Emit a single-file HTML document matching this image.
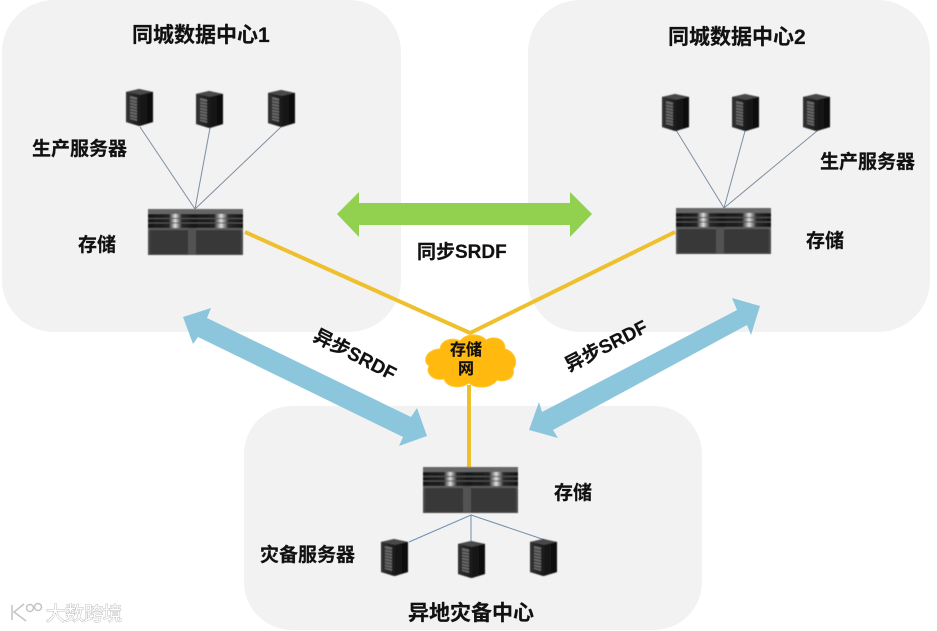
<!DOCTYPE html>
<html><head><meta charset="utf-8"><style>
html,body{margin:0;padding:0;background:#fff;width:937px;height:631px;overflow:hidden}
svg{display:block}
text{font-family:"Liberation Sans","Noto Sans CJK SC",sans-serif;font-weight:700;fill:#111;stroke:#111;stroke-width:.2}
</style></head><body>
<svg width="937" height="631" viewBox="0 0 937 631" xmlns="http://www.w3.org/2000/svg">
<defs>
<linearGradient id="sf" x1="0" x2="1" y1="0" y2="0"><stop offset="0" stop-color="#333"/><stop offset="1" stop-color="#1a1a1a"/></linearGradient>
<linearGradient id="ss" x1="0" x2="1" y1="0" y2="0"><stop offset="0" stop-color="#1a1a1a"/><stop offset="1" stop-color="#0a0a0a"/></linearGradient>
<linearGradient id="band" x1="0" x2="1" y1="0" y2="0"><stop offset="0" stop-color="#161616"/><stop offset=".44" stop-color="#222"/><stop offset=".58" stop-color="#e0e0e0"/><stop offset=".72" stop-color="#2a2a2a"/><stop offset="1" stop-color="#141414"/></linearGradient>
<filter id="b" x="-5%" y="-5%" width="110%" height="110%"><feGaussianBlur stdDeviation="0.5"/></filter>
<g id="srv" filter="url(#b)">
<path d="M0 3 L13 0 L27 3 L27 33 L13 37 L0 33Z" fill="#111"/>
<path d="M0 3 L13 0 L27 3 L14 6Z" fill="#4a4a4a"/>
<path d="M0 3 L14 6 L14 37 L0 33Z" fill="url(#sf)"/>
<path d="M14 6 L27 3 L27 33 L14 37Z" fill="url(#ss)"/>
<path d="M4 7 L11 8.5 L11 32 L4 30Z" fill="#6b6b6b"/>
<path d="M4 10 L11 11.5 M4 13 L11 14.5 M4 16 L11 17.5 M4 19 L11 20.5 M4 22 L11 23.5 M4 25 L11 26.5 M4 28 L11 29.5" stroke="#2a2a2a" stroke-width="1" fill="none"/>
</g>
<g id="sto" filter="url(#b)">
<rect width="95" height="46" fill="#4c4c4c"/>
<rect x="0" y="0" width="95" height="5" fill="#666"/>
<rect x="0" y="5" width="47" height="14" fill="url(#band)"/>
<rect x="43" y="5" width="52" height="14" fill="url(#band)"/>
<path d="M0 9.5H95M0 14H95" stroke="#555" stroke-width="1"/>
<rect x="0" y="19" width="95" height="3" fill="#5c5c5c"/>
<rect x="2" y="21" width="38" height="24" fill="#383838"/>
<rect x="48" y="21" width="45" height="24" fill="#383838"/>
<rect x="40" y="19" width="8" height="27" fill="#525252"/>
</g>
</defs>

<rect x="2" y="0" width="399" height="332" rx="52" fill="#f2f2f2"/>
<rect x="528" y="0" width="402" height="332" rx="52" fill="#f2f2f2"/>
<rect x="244" y="406" width="458" height="224" rx="48" fill="#f2f2f2"/>

<g stroke="#7f8fa0" stroke-width="1" fill="none">
<path d="M140 127L195 209M210 128L195 209M281 127L195 209"/>
<path d="M676 130L724 208M745 131L724 208M817 131L724 208"/>
<path d="M409 542L471 515L471 541M471 515L545 540" stroke="#6f8fae"/>
</g>

<g stroke="#efc02e" stroke-width="4" fill="none">
<path d="M245 232L470 333L675 232"/>
<path d="M469 385V467"/>
</g>

<use href="#srv" x="126" y="89"/><use href="#srv" x="196" y="91"/><use href="#srv" x="268" y="90"/>
<use href="#srv" x="662" y="94"/><use href="#srv" x="732" y="94"/><use href="#srv" x="803" y="94"/>
<use href="#srv" x="381" y="539"/><use href="#srv" x="458" y="541"/><use href="#srv" x="530" y="539"/>
<use href="#sto" x="148" y="209"/><use href="#sto" x="676" y="208"/><use href="#sto" x="423" y="467"/>

<polygon points="337,214 359,192 359,203 570,203 570,192 592,214 570,237 570,225 359,225 359,237" fill="#92d050"/>
<polygon points="183,317 211,308 207,318 411,417 417,408 427,436 399,446 403,437 198,337 193,344" fill="#8cc6dc"/>
<polygon points="760,306 732,298 737,310 542,412 539,402 529,430 558,438 553,430 747,325 751,335" fill="#8cc6dc"/>

<path d="M440 349C441 340 452 337 460 341C466 333 480 333 486 340C494 335 506 339 505 349C514 351 519 362 513 369C516 378 505 383 497 380C491 389 475 389 469 383C461 389 447 388 444 379C434 381 425 374 429 366C421 360 428 349 440 349Z" fill="#ffb90f" stroke="#ffc93a" stroke-width="1"/>

<g font-size="21">
<text x="132" y="42">同城数据中心1</text>
<text x="668" y="44">同城数据中心2</text>
<text x="408" y="620">异地灾备中心</text>
</g>
<g font-size="19">
<text x="32" y="155">生产服务器</text>
<text x="820" y="168">生产服务器</text>
<text x="260" y="561">灾备服务器</text>
<text x="78" y="251">存储</text>
<text x="806" y="247">存储</text>
<text x="554" y="499">存储</text>
<text x="417" y="258">同步SRDF</text>
<text transform="translate(312 340) rotate(27)">异步SRDF</text>
<text transform="translate(569 372) rotate(-27)">异步SRDF</text>
</g>
<g font-size="16">
<text x="450" y="355">存储</text>
<text x="458" y="374">网</text>
</g>

<g stroke="#c4c4c4" stroke-width="1.5" fill="none">
<path d="M12 605V620M24 604L14 612L26 621"/>
<circle cx="30" cy="608" r="3.5"/><circle cx="38" cy="607" r="3.5"/>
</g>
<text x="46" y="620" font-size="19" style="fill:#fff;stroke:#bdbdbd;stroke-width:1;paint-order:stroke;font-weight:400">大数跨境</text>
</svg>
</body></html>
